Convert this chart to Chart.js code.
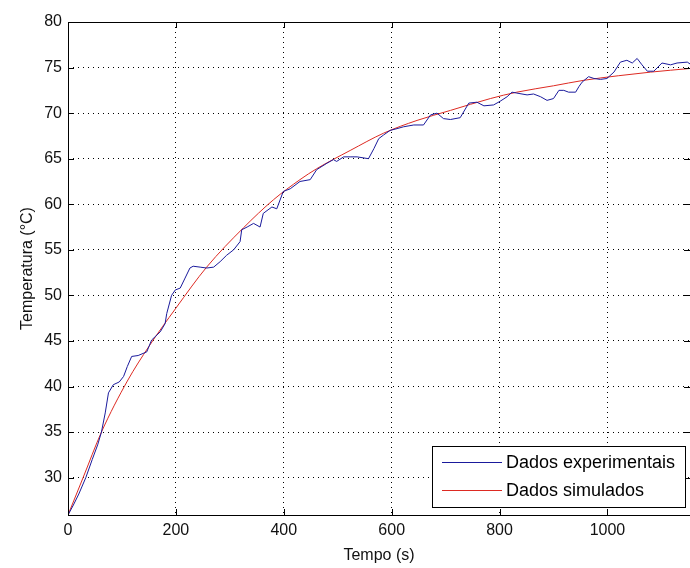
<!DOCTYPE html>
<html>
<head>
<meta charset="utf-8">
<script src="https://cdn.jsdelivr.net/npm/chart.js@4.4.0/dist/chart.umd.min.js"></script>
<style>
    html, body { margin: 0; padding: 0; background: #fff; overflow: hidden; }
</style>
</head>
<body>
<canvas id="tempChart" width="690" height="568"></canvas>
<script>
const expTime = [0, 10, 20, 33, 45, 55, 62, 69, 75, 84, 95, 103, 110, 118, 130, 146, 155, 171, 180, 183,
    192, 199, 208, 217, 226, 232, 245, 257, 270, 282, 294, 307, 319, 322, 332, 344, 356, 362, 378, 387,
    399, 412, 430, 449, 461, 480, 492, 498, 511, 523, 536, 557, 567, 576, 585, 597, 610, 622, 641, 659,
    672, 684, 696, 709, 727, 743, 758, 771, 789, 801, 814, 823, 832, 851, 863, 876, 888, 900, 910, 919,
    928, 941, 947, 953, 965, 975, 987, 999, 1012, 1024, 1036, 1046, 1055, 1064, 1074, 1086, 1101, 1117, 1129, 1148, 1153];
const expTemp = [25.9, 27.0, 28.2, 30.0, 32.0, 33.6, 35.0, 37.1, 39.3, 40.2, 40.5, 41.1, 42.2, 43.3, 43.4, 43.8, 45.1, 46.0, 46.9, 48.0,
    50.0, 50.6, 50.8, 51.9, 53.0, 53.2, 53.1, 53.0, 53.1, 53.7, 54.4, 55.0, 55.9, 57.2, 57.5, 57.9, 57.5, 59.0, 59.7, 59.5,
    61.4, 61.7, 62.5, 62.7, 63.8, 64.5, 64.9, 64.7, 65.2, 65.2, 65.2, 65.0, 66.1, 67.2, 67.6, 68.1, 68.3, 68.5, 68.7, 68.7,
    69.8, 70.0, 69.4, 69.3, 69.5, 71.1, 71.2, 70.8, 70.9, 71.3, 71.8, 72.3, 72.2, 72.0, 72.1, 71.8, 71.4, 71.6, 72.5, 72.5,
    72.3, 72.3, 72.9, 73.4, 74.0, 73.8, 73.7, 73.8, 74.5, 75.6, 75.8, 75.5, 76.0, 75.3, 74.6, 74.6, 75.5, 75.3, 75.5, 75.6, 75.4];

// Simulated data
const simTime = [0, 28, 62, 110, 150, 200, 257, 325, 381, 430, 461, 523, 585, 647, 709, 783, 832, 900, 956, 1020, 1080, 1153];
const simTemp = [25.9, 30.0, 35.0, 40.6, 44.4, 48.6, 53.1, 57.4, 60.5, 62.7, 63.9, 65.9, 67.8, 69.2, 70.3, 71.6, 72.3, 73.0, 73.6, 74.1, 74.5, 74.9];

const xTicks = [0, 200, 400, 600, 800, 1000];
const yTicks = [30, 35, 40, 45, 50, 55, 60, 65, 70, 75, 80];
const seriesNames = ['Dados experimentais', 'Dados simulados'];

const fontFamily = '"Liberation Sans", Arial, sans-serif';

const toPoints = (xs, ys) => xs.map((x, i) => ({ x: x, y: ys[i] }));

// Axes box with inward ticks (MATLAB style)
const frame = {
    id: 'frame',
    afterDatasetsDraw(chart) {
        const { ctx, chartArea: a, scales } = chart;
        ctx.save();
        ctx.strokeStyle = '#000';
        ctx.lineWidth = 1;
        ctx.strokeRect(a.left + 0.5, a.top + 0.5, a.right - a.left, a.bottom - a.top);
        ctx.beginPath();
        xTicks.forEach(v => {
            const px = Math.round(scales.x.getPixelForValue(v)) + 0.5;
            ctx.moveTo(px, a.bottom); ctx.lineTo(px, a.bottom - 6);
            ctx.moveTo(px, a.top); ctx.lineTo(px, a.top + 6);
        });
        yTicks.forEach(v => {
            const py = Math.round(scales.y.getPixelForValue(v)) + 0.5;
            ctx.moveTo(a.left, py); ctx.lineTo(a.left + 6, py);
            ctx.moveTo(a.right, py); ctx.lineTo(a.right - 6, py);
        });
        ctx.stroke();
        ctx.restore();
    }
};

// Legend box in the lower right corner
const boxLegend = {
    id: 'boxLegend',
    afterDraw(chart) {
        const { ctx, chartArea: a } = chart;
        ctx.save();
        ctx.font = '18px ' + fontFamily;
        const textW = Math.max(...chart.data.datasets.map(d => ctx.measureText(d.label).width));
        const w = Math.round(74 + textW + 10);
        const h = 61;
        const right = a.right - 5;
        const bottom = a.bottom - 8;
        const left = right - w, top = bottom - h;
        ctx.fillStyle = '#fff';
        ctx.fillRect(left, top, w, h);
        ctx.strokeStyle = '#000';
        ctx.lineWidth = 1;
        ctx.strokeRect(left + 0.5, top + 0.5, w, h);
        chart.data.datasets.forEach((d, i) => {
            const y = top + 16 + i * 28;
            ctx.strokeStyle = d.borderColor;
            ctx.beginPath();
            ctx.moveTo(left + 10, y + 0.5);
            ctx.lineTo(left + 70, y + 0.5);
            ctx.stroke();
            ctx.fillStyle = '#000';
            ctx.textBaseline = 'middle';
            ctx.fillText(d.label, left + 74, y + 1);
        });
        ctx.restore();
    }
};

new Chart(document.getElementById('tempChart'), {
    type: 'line',
    data: {
        datasets: [
            {
                label: seriesNames[0],
                data: toPoints(expTime, expTemp),
                borderColor: '#1a1a9c',
                borderWidth: 1,
                pointRadius: 0,
                tension: 0
            },
            {
                label: seriesNames[1],
                data: toPoints(simTime, simTemp),
                borderColor: '#dd2a22',
                borderWidth: 1,
                pointRadius: 0,
                cubicInterpolationMode: 'monotone'
            }
        ]
    },
    options: {
        responsive: false,
        animation: false,
        layout: { padding: { top: 22, right: 0, bottom: 0, left: 0 } },
        plugins: {
            legend: { display: false },
            tooltip: { enabled: false }
        },
        scales: {
            x: {
                type: 'linear',
                min: 0,
                max: 1153,
                afterBuildTicks: s => { s.ticks = xTicks.map(v => ({ value: v })); },
                afterFit: s => { s.height = 53; },
                grid: { color: '#000', drawTicks: false, lineWidth: 1 },
                border: { display: false, dash: [1, 4] },
                ticks: {
                    padding: 6,
                    maxRotation: 0,
                    color: '#111',
                    callback: v => String(v),
                    font: { family: fontFamily, size: 16 }
                },
                title: {
                    display: true,
                    text: 'Tempo (s)',
                    color: '#111',
                    padding: { top: 0, bottom: 3 },
                    font: { family: fontFamily, size: 16 }
                }
            },
            y: {
                min: 25.9,
                max: 80,
                afterBuildTicks: s => { s.ticks = yTicks.map(v => ({ value: v })); },
                afterFit: s => { s.width = 68; },
                grid: { color: '#000', drawTicks: false, lineWidth: 1 },
                border: { display: false, dash: [1, 4] },
                ticks: {
                    padding: 6,
                    color: '#111',
                    callback: v => String(v),
                    font: { family: fontFamily, size: 16 }
                },
                title: {
                    display: true,
                    text: 'Temperatura (°C)',
                    color: '#111',
                    padding: { top: 18, bottom: 0 },
                    font: { family: fontFamily, size: 16 }
                }
            }
        }
    },
    plugins: [frame, boxLegend]
});
</script>
</body>
</html>
